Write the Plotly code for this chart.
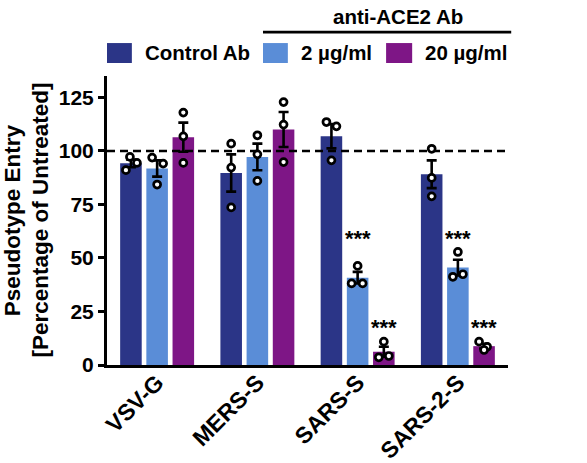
import plotly.graph_objects as go

# ---------------- data ----------------
categories = ["VSV-G", "MERS-S", "SARS-S", "SARS-2-S"]
series_names = ["Control Ab", "2 µg/ml", "20 µg/ml"]

control_mean = [94.2, 89.7, 106.9, 89.1]
low_mean = [91.8, 97.2, 40.8, 45.5]
high_mean = [106.4, 110.0, 6.2, 8.8]

control_sem = [1.8, 8.7, 5.7, 6.5]
low_sem = [3.8, 6.2, 2.7, 3.7]
high_sem = [6.8, 8.2, 2.3, 1.1]

control_points = [[91.0, 97.2, 94.4], [103.4, 92.2, 73.6], [113.5, 111.5, 95.6], [101.0, 87.4, 78.8]]
low_points = [[96.9, 94.1, 84.3], [107.3, 98.4, 86.0], [46.3, 38.1, 38.1], [52.8, 41.2, 42.4]]
high_points = [[117.9, 106.8, 94.4], [122.8, 112.3, 94.8], [10.9, 3.6, 4.2], [10.9, 8.5, 7.0]]

control_sig = ["", "", "", ""]
low_sig = ["", "", "***", "***"]
high_sig = ["", "", "***", "***"]

y_ticks = [0, 25, 50, 75, 100, 125]
reference_level = 100

# ---------------- style ----------------
colors = ["#2b3587", "#5a8dd7", "#7e1686"]
FONT = "Liberation Sans, Arial, sans-serif"
BARGAP = 0.216
BARGROUPGAP = 0.177
PX_PER_CAT = 100.25
# small horizontal nudges (pixels) so overlapping dots stay visible
nudge_px = [
    [[-5, -1, 6], [0, 0, 0], [-5, 5, 0], [0, 0, 0]],
    [[-5, 6, 0], [0, 0, 0], [0, -6, 5], [0, -5, 5]],
    [[0, 0, 0], [0, 0, 0], [0, -5, 5], [-5, 3, 0]],
]
sig_y = {"low": 59.0, "high": 17.5}

means = [control_mean, low_mean, high_mean]
sems = [control_sem, low_sem, high_sem]
points = [control_points, low_points, high_points]
sigs = [control_sig, low_sig, high_sig]

xpos = list(range(len(categories)))
slot = (1 - BARGAP) / len(series_names)

fig = go.Figure()

for j, name in enumerate(series_names):
    fig.add_trace(go.Bar(
        x=xpos, y=means[j], name=name,
        marker=dict(color=colors[j], line=dict(width=0)),
        showlegend=False,
    ))

# reference line at 100 (above bars, below dots)
fig.add_trace(go.Scatter(
    x=[-0.5, len(categories) - 0.5], y=[reference_level, reference_level],
    mode="lines", line=dict(color="black", width=2.6, dash="8px,5px"),
    showlegend=False, hoverinfo="skip",
))

for j, name in enumerate(series_names):
    centers = [i + (j - 1) * slot for i in xpos]
    fig.add_trace(go.Scatter(
        x=centers, y=means[j], mode="markers",
        marker=dict(size=1, color="rgba(0,0,0,0)"),
        error_y=dict(type="data", array=sems[j], visible=True,
                     color="black", thickness=2.6, width=5),
        showlegend=False, hoverinfo="skip",
    ))
    px, py = [], []
    for i in xpos:
        for k, v in enumerate(points[j][i]):
            px.append(centers[i] + nudge_px[j][i][k] / PX_PER_CAT)
            py.append(v)
    fig.add_trace(go.Scatter(
        x=px, y=py, mode="markers",
        marker=dict(size=7, color="white", line=dict(color="black", width=2.7)),
        showlegend=False,
    ))

annotations = []
for j, key in [(1, "low"), (2, "high")]:
    for i in xpos:
        if sigs[j][i]:
            annotations.append(dict(
                x=i + (j - 1) * slot, y=sig_y[key], xref="x", yref="y",
                text="<b>" + sigs[j][i] + "</b>", showarrow=False,
                font=dict(family=FONT, size=22, color="black"),
                xanchor="center", yanchor="middle",
            ))

# custom legend
legend_sq = [(0.0, 0.062), (0.389, 0.451), (0.696, 0.761)]
legend_tx = [0.090, 0.479, 0.788]
shapes = []
for j, name in enumerate(series_names):
    shapes.append(dict(type="rect", xref="x domain", yref="y domain",
                       x0=legend_sq[j][0], x1=legend_sq[j][1], y0=1.045, y1=1.114,
                       fillcolor=colors[j], line=dict(width=0)))
    annotations.append(dict(x=legend_tx[j], y=1.08, xref="x domain", yref="y domain",
                            text="<b>" + name + "</b>", showarrow=False,
                            xanchor="left", yanchor="middle",
                            font=dict(family=FONT, size=20.5, color="black")))
shapes.append(dict(type="line", xref="x domain", yref="y domain",
                   x0=0.389, x1=1.008, y0=1.152, y1=1.152,
                   line=dict(color="black", width=2.7)))
annotations.append(dict(x=0.725, y=1.207, xref="x domain", yref="y domain",
                        text="<b>anti-ACE2 Ab</b>", showarrow=False,
                        xanchor="center", yanchor="middle",
                        font=dict(family=FONT, size=20.5, color="black")))

# y-axis title as two rotated annotations placed in the left margin
annotations.append(dict(x=-0.235, y=0.5, xref="x domain", yref="y domain",
                        text="<b>Pseudotype Entry</b>", textangle=-90, showarrow=False,
                        xanchor="center", yanchor="middle",
                        font=dict(family=FONT, size=22.5, color="black")))
annotations.append(dict(x=-0.167, y=0.5, xref="x domain", yref="y domain",
                        text="<b>[Percentage of Untreated]</b>", textangle=-90, showarrow=False,
                        xanchor="center", yanchor="middle",
                        font=dict(family=FONT, size=22.5, color="black")))

fig.update_layout(
    width=587, height=463,
    margin=dict(l=107, r=79, t=76, b=98, autoexpand=False),
    paper_bgcolor="white", plot_bgcolor="white",
    barmode="group", bargap=BARGAP, bargroupgap=BARGROUPGAP,
    font=dict(family=FONT, color="black"),
    shapes=shapes, annotations=annotations,
    hovermode=False,
    xaxis=dict(
        range=[-0.5, len(categories) - 0.5],
        tickvals=xpos, ticktext=["<b>" + c + "</b>" for c in categories],
        tickangle=-45, tickfont=dict(family=FONT, size=23, color="black"),
        ticklabelstandoff=-8,
        showline=True, linecolor="black", linewidth=3,
        ticks="", showgrid=False, zeroline=False, automargin=False,
    ),
    yaxis=dict(
        range=[0, 135], tickvals=y_ticks,
        ticktext=["<b>%d</b>" % t for t in y_ticks],
        tickfont=dict(family=FONT, size=21, color="black"),
        ticks="outside", ticklen=6, tickwidth=3, tickcolor="black",
        showline=True, linecolor="black", linewidth=3,
        showgrid=False, zeroline=False, automargin=False,
    ),
)

# remove the default 8px page margin so the figure fills the window exactly
fig.write_html(
    "out.html",
    config={"displayModeBar": False, "staticPlot": True},
    post_script="document.body.style.margin='0';document.body.style.overflow='hidden';",
)
